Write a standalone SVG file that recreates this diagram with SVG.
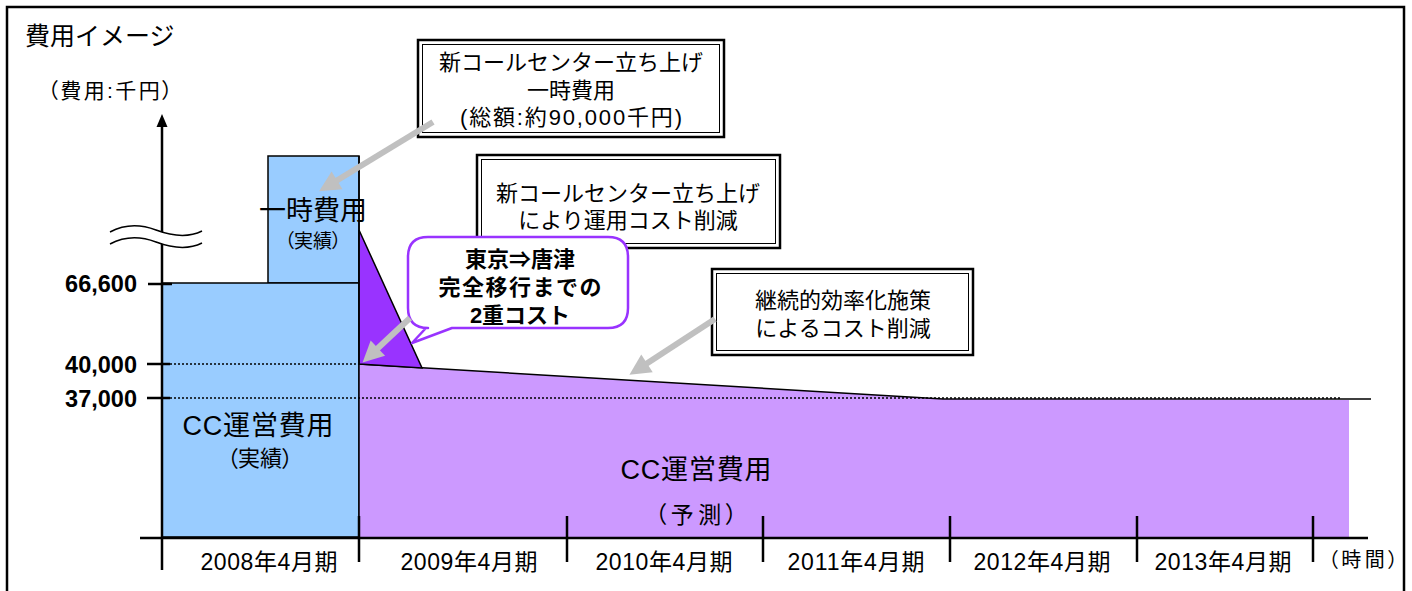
<svg xmlns="http://www.w3.org/2000/svg" width="1412" height="591" viewBox="0 0 1412 591">
<style>
text{font-family:"Liberation Sans","Noto Sans CJK JP",sans-serif;fill:#000}
.c{text-anchor:middle;dominant-baseline:central}
.b{font-weight:bold}
.p{font-feature-settings:"palt" 1}
.outer{fill:#fff;stroke:#000;stroke-width:2.5}
.inner{fill:none;stroke:#000;stroke-width:1}
.dot{stroke:#000;stroke-width:1.5;stroke-dasharray:2 2;fill:none}
.ax{stroke:#000;stroke-width:2.5;fill:none}
.garrow{stroke:#c0c0c0;stroke-width:6;fill:none;marker-end:url(#gh)}
</style>
<defs>
<marker id="gh" markerUnits="strokeWidth" markerWidth="4" markerHeight="4" refX="0.2" refY="1.75" orient="auto" overflow="visible">
<path d="M0,0 L3.5,1.75 L0,3.5 z" fill="#c0c0c0"/>
</marker>
<marker id="bh" markerUnits="userSpaceOnUse" markerWidth="14" markerHeight="14" refX="1" refY="5.5" orient="auto" overflow="visible">
<path d="M0,0 L13,5.5 L0,11 z" fill="#000"/>
</marker>
</defs>
<rect x="7" y="7" width="1397" height="600" fill="#fff" stroke="#000" stroke-width="2.5"/>
<text x="25" y="36" font-size="25" dominant-baseline="central">費用イメージ</text>
<text x="110" y="90" font-size="21" class="c p" textLength="125">（費用:千円）</text>

<g id="bar-ichiji">
<rect x="268" y="156" width="91" height="127" fill="#99ccff" stroke="#000" stroke-width="1.5"/>
</g>
<g id="bar-jisseki">
<rect x="162" y="283" width="197" height="254" fill="#99ccff" stroke="#000" stroke-width="1.5"/>
<text x="258" y="426" font-size="27" class="c" textLength="151">CC運営費用</text>
<text x="260" y="458" font-size="22" class="c p">（実績）</text>
</g>
<g id="area-yosoku">
<polygon points="359,364 943,399 1349,400 1349,537 359,537" fill="#cc99ff"/>
<polyline points="359,364 943,399 1371,399" fill="none" stroke="#000" stroke-width="1.5"/>
<text x="696" y="470" font-size="27" class="c" textLength="151">CC運営費用</text>
<text x="696" y="515" font-size="23" class="c p" textLength="82">（予測）</text>
</g>
<g id="triangle-double">
<polygon points="359,230 422,368 359,364" fill="#9933ff" stroke="#000" stroke-width="1.5"/>
</g>
<line x1="359" y1="156" x2="359" y2="537" stroke="#000" stroke-width="1.5"/>
<g id="ichiji-label">
<text x="313" y="211" font-size="27" class="c">一時費用</text>
<text x="313" y="241" font-size="19" class="c p">（実績）</text>
</g>

<g id="axes">
<line class="dot" x1="162" y1="364" x2="359" y2="364"/>
<line class="dot" x1="162" y1="398" x2="1340" y2="398"/>
<line class="ax" x1="162" y1="570" x2="162" y2="126" marker-end="url(#bh)"/>
<path d="M110,232 C125,224 140,224 156,230 C172,236 188,238 202,231 L202,243 C188,250 172,248 156,242 C140,236 125,236 110,244 Z" fill="#fff" stroke="none"/>
<path d="M110,232 C125,224 140,224 156,230 C172,236 188,238 202,231" fill="none" stroke="#000" stroke-width="1.5"/>
<path d="M110,244 C125,236 140,236 156,242 C172,248 188,250 202,243" fill="none" stroke="#000" stroke-width="1.5"/>
<line class="ax" x1="140" y1="538" x2="1368" y2="538"/>
<line class="ax" x1="148" y1="284" x2="172" y2="284"/>
<line class="ax" x1="147" y1="364" x2="170" y2="364"/>
<line class="ax" x1="147" y1="398" x2="170" y2="398"/>
<line class="ax" x1="359" y1="516" x2="359" y2="562"/>
<line class="ax" x1="567" y1="516" x2="567" y2="562"/>
<line class="ax" x1="763" y1="516" x2="763" y2="562"/>
<line class="ax" x1="950" y1="516" x2="950" y2="562"/>
<line class="ax" x1="1137" y1="516" x2="1137" y2="562"/>
<line class="ax" x1="1313" y1="516" x2="1313" y2="562"/>
<text x="137" y="284" font-size="23.5" class="b" text-anchor="end" dominant-baseline="central">66,600</text>
<text x="137" y="365" font-size="23.5" class="b" text-anchor="end" dominant-baseline="central">40,000</text>
<text x="137" y="399" font-size="23.5" class="b" text-anchor="end" dominant-baseline="central">37,000</text>
<text x="269" y="562" font-size="23" class="c" textLength="137">2008年4月期</text>
<text x="469" y="562" font-size="23" class="c" textLength="137">2009年4月期</text>
<text x="664" y="562" font-size="23" class="c" textLength="137">2010年4月期</text>
<text x="856" y="562" font-size="23" class="c" textLength="137">2011年4月期</text>
<text x="1042" y="562" font-size="23" class="c" textLength="137">2012年4月期</text>
<text x="1223" y="562" font-size="23" class="c" textLength="137">2013年4月期</text>
<text x="1363" y="560" font-size="20" class="c p" textLength="70">（時間）</text>
</g>

<g id="box-ichiji">
<rect class="outer" x="418" y="40" width="306" height="97"/>
<rect class="inner" x="422.5" y="44.5" width="297" height="88"/>
<text x="571" y="62" font-size="22" class="c">新コールセンター立ち上げ</text>
<text x="571" y="90" font-size="22" class="c">一時費用</text>
<text x="571" y="117" font-size="22" class="c" textLength="222">(総額:約90,000千円)</text>
</g>
<g id="box-unyou">
<rect class="outer" x="477" y="155" width="303" height="93"/>
<rect class="inner" x="481.5" y="159.5" width="294" height="84"/>
<text x="628" y="193" font-size="22" class="c">新コールセンター立ち上げ</text>
<text x="628" y="220" font-size="22" class="c">により運用コスト削減</text>
</g>
<g id="box-keizoku">
<rect class="outer" x="712" y="269" width="261" height="86"/>
<rect class="inner" x="716.5" y="273.5" width="252" height="77"/>
<text x="843" y="300" font-size="22" class="c">継続的効率化施策</text>
<text x="843" y="328" font-size="22" class="c">によるコスト削減</text>
</g>

<g id="connectors">
<line class="garrow" x1="433" y1="122" x2="336" y2="181"/>
<line class="garrow" x1="715" y1="319" x2="646" y2="364"/>
</g>

<g id="bubble">
<path d="M428,237 L608,237 Q628,237 628,257 L628,308 Q628,328 608,328 L452,328 L412,343 L426,328 L428,328 Q408,328 408,308 L408,257 Q408,237 428,237 Z" fill="#fff" stroke="#9933ff" stroke-width="2.5" stroke-linejoin="round"/>
<text x="520" y="259" font-size="22" class="c b">東京⇒唐津</text>
<text x="520" y="287" font-size="22" class="c b" textLength="163">完全移行までの</text>
<text x="520" y="315" font-size="22" class="c b">2重コスト</text>
</g>
<g id="connectors2">
<line class="garrow" x1="410" y1="318" x2="377" y2="349"/>
</g>
</svg>
